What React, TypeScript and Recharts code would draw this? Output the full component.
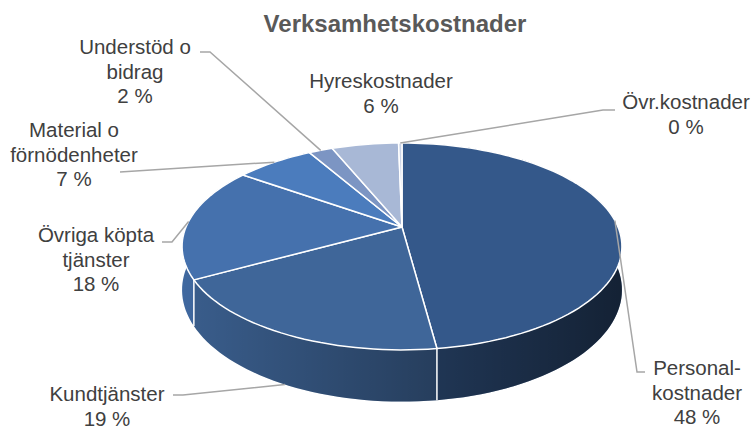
import { Cell, Pie, PieChart } from "recharts";

// Verksamhetskostnader – 3D-ish pie, share of total (%)
const categories = [
  "Personalkostnader",
  "Kundtjänster",
  "Övriga köpta tjänster",
  "Material o förnödenheter",
  "Understöd o bidrag",
  "Hyreskostnader",
  "Övr.kostnader",
];
const values = [47.9, 19.1, 17.8, 6.9, 2.1, 5.9, 0.3];
const labelText = [
  ["Personal-", "kostnader"],
  ["Kundtjänster"],
  ["Övriga köpta", "tjänster"],
  ["Material o", "förnödenheter"],
  ["Understöd o", "bidrag"],
  ["Hyreskostnader"],
  ["Övr.kostnader"],
];
const COLORS = ["#34588a", "#3f6699", "#4571ad", "#4b7cbd", "#7c95c3", "#a8b8d6", "#c9d3e6"];

const data = categories.map((name, i) => ({ name, value: values[i] }));

const W = 753;
const H = 428;
const CX = 402;
const CY = 227;
const R = 216;
const TILT = 0.462; // vertical squash of the disc
const PERSP = 0.188; // front of disc looks bigger
const DEPTH = 42;
const FONT = "'Liberation Sans', Arial, sans-serif";

// where Excel put each data label (text centre, first baseline) and the leader elbow
const LABEL_LAYOUT: { x: number; y: number; path: number[][] | null }[] = [
  { x: 697, y: 375, path: [[637, 372], [645, 372]] },
  { x: 107, y: 401, path: [[183, 395], [173, 395]] },
  { x: 96, y: 242, path: [[172, 242], [162, 242]] },
  { x: 74, y: 137, path: [[120, 172]] },
  { x: 135, y: 54, path: [[210, 52], [200, 52]] },
  { x: 381, y: 88, path: null },
  { x: 686, y: 109, path: [[603, 110], [615, 110]] },
];

function project(angle: number, drop: number, cx: number, cy: number, r: number) {
  const a = (angle * Math.PI) / 180;
  const u = Math.cos(a);
  const v = -Math.sin(a);
  const s = 1 / (1 - PERSP * v);
  return { x: cx + r * u * s, y: cy + (r * TILT * v + drop) * s, v };
}

function arc(start: number, end: number, drop: number, cx: number, cy: number, r: number) {
  const n = Math.max(2, Math.ceil(Math.abs(end - start) / 2));
  const pts: string[] = [];
  for (let i = 0; i <= n; i++) {
    const p = project(start + ((end - start) * i) / n, drop, cx, cy, r);
    pts.push(`${p.x.toFixed(2)},${p.y.toFixed(2)}`);
  }
  return pts;
}

function WallShape(props: any) {
  const { cx, cy, outerRadius, startAngle, endAngle, fill } = props;
  const top = arc(startAngle, endAngle, 0, cx, cy, outerRadius);
  const bottom = arc(startAngle, endAngle, DEPTH, cx, cy, outerRadius).reverse();
  const d = `M${top.join(" L")} L${bottom.join(" L")} Z`;
  const a = project(startAngle, 0, cx, cy, outerRadius);
  const b = project(startAngle, DEPTH, cx, cy, outerRadius);
  return (
    <g>
      <path d={d} fill={fill} stroke="none" />
      <path d={d} fill="url(#wallShade)" stroke="none" />
      {a.v > 0.2 && <line x1={a.x} y1={a.y} x2={b.x} y2={b.y} stroke="#fff" strokeWidth={1.5} />}
    </g>
  );
}

function TopShape(props: any) {
  const { cx, cy, outerRadius, startAngle, endAngle, fill } = props;
  const pts = arc(startAngle, endAngle, 0, cx, cy, outerRadius);
  return <path d={`M${cx},${cy} L${pts.join(" L")} Z`} fill={fill} stroke="#fff" strokeWidth={1.5} strokeLinejoin="round" />;
}

function renderLabel(props: any) {
  const { cx, cy, outerRadius, midAngle, index, percent } = props;
  const layout = LABEL_LAYOUT[index];
  const rim = project(midAngle, 0, cx, cy, outerRadius);
  const anchor = rim.v > 0.5 ? project(midAngle, DEPTH, cx, cy, outerRadius) : rim;
  const lines = [...labelText[index], `${Math.round(percent * 100)} %`];
  return (
    <g key={`lbl-${index}`}>
      {layout.path && (
        <polyline
          points={[[anchor.x, anchor.y], ...layout.path].map((p) => p.join(",")).join(" ")}
          fill="none"
          stroke="#a6a6a6"
          strokeWidth={1.5}
        />
      )}
      <text x={layout.x} y={layout.y} textAnchor="middle" fill="#404040" fontSize={20.5} fontFamily={FONT}>
        {lines.map((t, i) => (
          <tspan key={i} x={layout.x} dy={i === 0 ? 0 : 24.5}>
            {t}
          </tspan>
        ))}
      </text>
    </g>
  );
}

export default function App() {
  return (
    <div style={{ position: "absolute", left: 0, top: 0, width: W, height: H, background: "#fff" }}>
      <PieChart width={W} height={H} margin={{ top: 0, right: 0, bottom: 0, left: 0 }}>
        <Pie
          data={data}
          dataKey="value"
          nameKey="name"
          cx={CX}
          cy={CY}
          outerRadius={R}
          startAngle={90}
          endAngle={-270}
          isAnimationActive={false}
          shape={WallShape}
          inactiveShape={WallShape}
          label={false}
          labelLine={false}
        >
          {data.map((_, i) => (
            <Cell key={i} fill={COLORS[i]} />
          ))}
        </Pie>
        <Pie
          data={data}
          dataKey="value"
          nameKey="name"
          cx={CX}
          cy={CY}
          outerRadius={R}
          startAngle={90}
          endAngle={-270}
          isAnimationActive={false}
          shape={TopShape}
          inactiveShape={TopShape}
          label={renderLabel}
          labelLine={false}
        >
          {data.map((_, i) => (
            <Cell key={i} fill={COLORS[i]} />
          ))}
        </Pie>
      </PieChart>
      <svg width={W} height={H} style={{ position: "absolute", left: 0, top: 0, pointerEvents: "none" }}>
        <defs>
          <linearGradient id="wallShade" gradientUnits="userSpaceOnUse" x1={CX - R * 1.02} y1={0} x2={CX + R * 1.02} y2={0}>
            <stop offset="0%" stopColor="#000" stopOpacity={0.08} />
            <stop offset="100%" stopColor="#000" stopOpacity={0.62} />
          </linearGradient>
        </defs>
        <text x={395} y={32} textAnchor="middle" fill="#595959" fontSize={24} fontWeight="bold" fontFamily={FONT}>
          Verksamhetskostnader
        </text>
      </svg>
    </div>
  );
}
